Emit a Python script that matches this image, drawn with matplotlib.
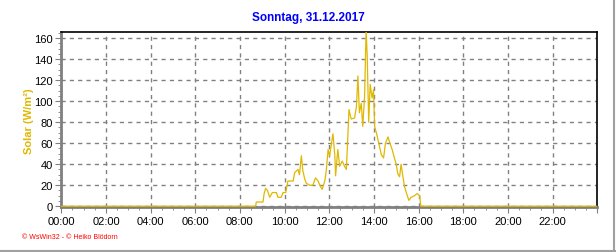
import matplotlib
matplotlib.use("Agg")
import matplotlib.pyplot as plt
from matplotlib.ticker import MultipleLocator, FuncFormatter

plt.rcParams['font.family'] = ['Liberation Sans', 'DejaVu Sans']

# Messzeiten (HH:MM) und Solarstrahlung in W/m²
times = ["00:00", "08:42", "08:44", "09:02", "09:05", "09:09", "09:14", "09:20",
         "09:27", "09:38", "09:42", "09:51", "09:56", "10:03", "10:09", "10:23",
         "10:27", "10:36", "10:40", "10:45", "10:49", "10:54", "10:58", "11:07",
         "11:16", "11:23", "11:30", "11:36", "11:41", "11:48", "11:52", "11:57",
         "12:01", "12:06", "12:10", "12:15", "12:17", "12:23", "12:28", "12:35",
         "12:41", "12:46", "12:51", "12:53", "12:59", "13:08", "13:13", "13:17",
         "13:21", "13:26", "13:30", "13:35", "13:39", "13:42", "13:46", "13:50",
         "13:55", "13:59", "14:02", "14:08", "14:13", "14:20", "14:26", "14:31",
         "14:38", "14:42", "14:49", "14:55", "15:00", "15:04", "15:09", "15:13",
         "15:18", "15:22", "15:27", "15:34", "15:40", "15:49", "15:56", "16:03",
         "16:06", "23:59"]
solar = [0, 0, 4, 4, 12, 17, 15, 8.5,
         13, 13, 8.5, 8.5, 13, 13, 24, 24,
         32, 35, 30, 48, 34, 26, 22, 20,
         20, 27, 24, 19, 16, 24, 34, 54,
         48, 60, 69, 48, 29, 54, 38, 43,
         38, 35, 75, 92, 83, 84, 95, 124,
         89, 98, 76, 105, 168, 143, 80, 116,
         103, 111, 76, 68, 60, 49, 46, 60,
         66, 61, 54, 46, 40, 31, 28, 40,
         28, 19, 13, 5.5, 8.5, 10, 12, 10,
         0, 0]

hours = [int(t[:2]) + int(t[3:]) / 60 for t in times]

fig = plt.figure(figsize=(6.16, 2.53), dpi=100)
ax = fig.add_axes([0.0995, 0.176, 0.870, 0.692])

ax.plot(hours, solar, color="#e0b800", linewidth=0.9, zorder=3)

ax.set_xlim(0, 24)
ax.set_ylim(-1.2, 165.5)

ax.xaxis.set_major_locator(MultipleLocator(2))
ax.xaxis.set_minor_locator(MultipleLocator(0.5))
ax.xaxis.set_major_formatter(FuncFormatter(lambda v, p: f"{int(v):02d}:00" if v < 23 else ""))
ax.yaxis.set_major_locator(MultipleLocator(20))
ax.yaxis.set_minor_locator(MultipleLocator(5))

ax.grid(True, which="major", color="#808080", linestyle=(0, (3, 3)), linewidth=1.0)
ax.tick_params(which="major", length=4, color="#808080", labelsize=8, pad=2)
ax.tick_params(which="minor", length=2, color="#808080")

for side in ["left", "bottom"]:
    ax.spines[side].set_color("#808080")
    ax.spines[side].set_linewidth(2)
for side in ["top", "right"]:
    ax.spines[side].set_color("black")
    ax.spines[side].set_linewidth(1.2)

ax.set_ylabel("Solar (W/m²)", color="#e0b800", fontsize=8, fontweight="bold", labelpad=0)
fig.text(0.5, 0.93, "Sonntag, 31.12.2017", color="#0000ff", fontsize=8.5,
         fontweight="bold", ha="center", va="center")
fig.text(0.035, 0.06, "© WsWin32 - © Heiko Blödorn", color="red", fontsize=5,
         ha="left", va="center")

# grauer Rahmen rechts und unten
fig.add_artist(plt.Line2D([0.997, 0.997], [0.0, 1.0], color="#a0a0a0", linewidth=1.5,
                          transform=fig.transFigure))
fig.add_artist(plt.Line2D([0.0, 1.0], [0.004, 0.004], color="#a0a0a0", linewidth=1.5,
                          transform=fig.transFigure))

fig.savefig("out.png", dpi=100)
